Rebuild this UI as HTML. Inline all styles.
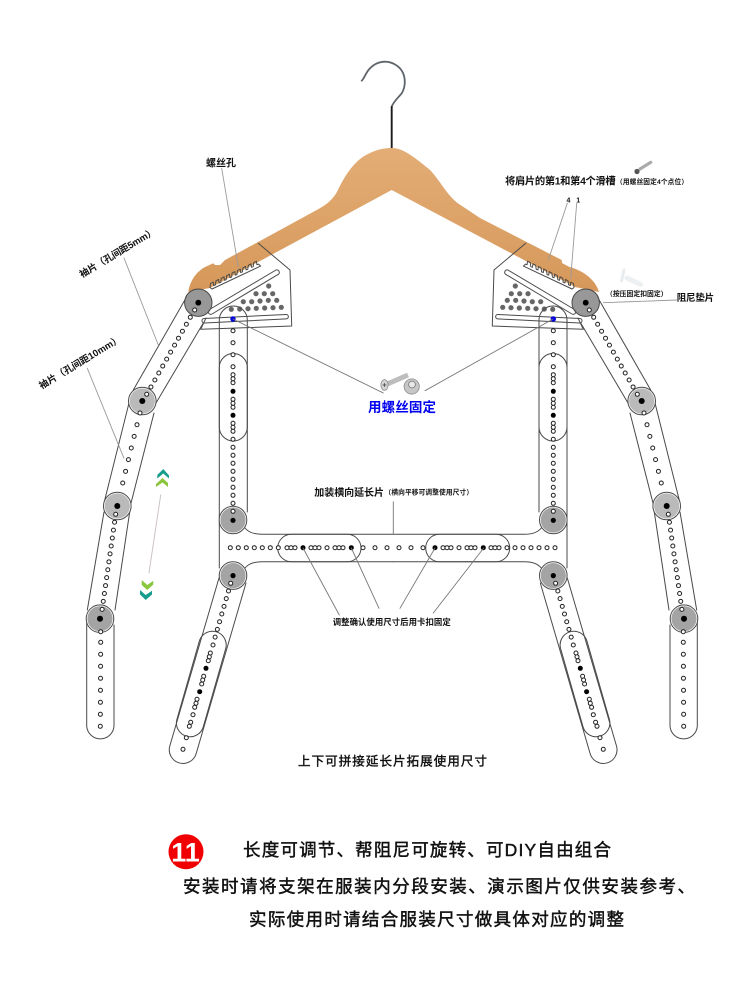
<!DOCTYPE html>
<html><head><meta charset="utf-8"><style>
html,body{margin:0;padding:0;background:#fff}
svg{display:block;stroke-linecap:round}
text{font-family:"Liberation Sans","Noto Sans CJK SC",sans-serif;font-weight:700;fill:#111}
.ln{fill:none;stroke:#4a4a4a;stroke-width:1;stroke-linejoin:round}
.ld{fill:none;stroke:#9a9a9a;stroke-width:.9}
.ls{fill:none;stroke:#777;stroke-width:.9}
.o,.w{fill:none}
.o{stroke:#222;stroke-width:5}
.w{stroke:#fff;stroke-width:3}
.d8{stroke-dasharray:0 8}
.d12{stroke-dasharray:0 12}
.b{fill:#000}
</style></head><body>
<svg width="750" height="1000" viewBox="0 0 750 1000" xmlns="http://www.w3.org/2000/svg">
<defs>
<linearGradient id="wd" x1="0" y1="0" x2="0" y2="1"><stop offset="0" stop-color="#e3ad76"/><stop offset="1" stop-color="#d6985a"/></linearGradient>
<path id="A8" d="M190.3 317.3L150.5 387.7M115.7 514.3L102 610.3"/>
<path id="A12" d="M137 424.7L122.6 483.5M100.7 642.3L100.3 727"/>
<path id="As" d="M194.7 310h.01M146.7 394.3h.01M140 413h.01M100.7 631.7h.01"/>
<path id="C8" d="M233 447.3V512.4M230.7 583.3L215 637.5"/>
<path id="C12" d="M233 330.7V367"/>
<path id="Cs" d="M233 374.7h.01M233 378.7h.01M233 382.7h.01M233 399.3h.01M233 403.3h.01M233 407.3h.01M233 423.3h.01M233 427.3h.01M233 431.3h.01M233 439.3h.01M213 645h.01M210.3 653h.01M209.3 656.7h.01M208.3 660.7h.01M203.7 676.3h.01M202.7 680h.01M201.7 684h.01M197 699.3h.01M196 703.3h.01M194.7 707.3h.01M193 714.7h.01M190.7 722.3h.01M189.3 726.3h.01M186.3 737.7h.01M183 749.3h.01"/>
<g id="J"><circle r="13.8" fill="#fff" stroke="#4a4a4a" stroke-width="1"/><circle r="12.6" fill="#a4a4a4"/></g>
<g id="J2"><circle r="13.8" fill="#fff" stroke="#4a4a4a" stroke-width="1"/><circle r="12.6" fill="#bababa"/></g>

<g id="arm">
<path class="ln" d="M186.7 296.7L133.3 390M203.3 323L156 403M129 403L104 503M154 413L130 507M104 512L87.3 610M130 510L115 610M86.7 622V726.3A13.7 13.7 0 0 0 114 726.3V625"/>
<path class="ln" d="M258.3 243.3L290 270L291.7 326L200.7 329.3L206 318"/>
<path class="ln" d="M210 287.5l.5-4l2.7-1.5l.5 3.5l1.7-.6l.5-4l2.7-1.5l.5 3.5l1.7-.6l.5-4l2.7-1.5l.5 3.5l1.7-.6l.5-4l2.7-1.5l.5 3.5l1.7-.6l.5-4l2.7-1.5l.5 3.5l1.7-.6l.5-4l2.7-1.5l.5 3.5l1.7-.6l.5-4l2.7-1.5l.5 3.5l1.7-.6l.5-4l2.7-1.5l.5 3.5l1.7-.6l.5-4l2.7-1.5l.5 3.5l1.7-.6l2 2L212 289Z"/>
<path class="ln" d="M209.5 309.5L276 270a2.5 2.5 0 0 1 2.5 4.2L212 314a2.5 2.5 0 0 1-2.5-4.5Z"/>
<path class="ln" d="M204 318.5L286 314.5a2.2 2.2 0 0 1 .3 4.4L204.5 323a2.2 2.2 0 0 1-.5-4.5Z"/>
<g fill="#666"><circle cx="268.7" cy="286" r="2.6"/><circle cx="256" cy="293.7" r="2.6"/><circle cx="264.3" cy="293.7" r="2.6"/><circle cx="272.7" cy="293.7" r="2.6"/><circle cx="243.3" cy="301.7" r="2.6"/><circle cx="251.7" cy="301.7" r="2.6"/><circle cx="260" cy="301" r="2.6"/><circle cx="268.3" cy="300.3" r="2.6"/><circle cx="276.7" cy="300.3" r="2.6"/><circle cx="231.3" cy="309.3" r="2.6"/><circle cx="239.7" cy="309" r="2.6"/><circle cx="248" cy="308.7" r="2.6"/><circle cx="256.3" cy="308.3" r="2.6"/><circle cx="264.7" cy="308" r="2.6"/><circle cx="273" cy="307.7" r="2.6"/><circle cx="281.3" cy="307.3" r="2.6"/></g>
<circle cx="198.3" cy="302.7" r="13.7" fill="#8a8a8a" fill-opacity=".88" stroke="#4a4a4a" stroke-width="1"/>
<use href="#J2" x="142.3" y="401"/><use href="#J2" x="117.3" y="506"/><use href="#J" x="100" y="618.7"/>
<use href="#A8" class="o d8"/><use href="#A12" class="o d12"/><use href="#As" class="o"/>
<use href="#A8" class="w d8"/><use href="#A12" class="w d12"/><use href="#As" class="w"/>
<g class="b"><circle cx="198.3" cy="302.7" r="2.9"/><circle cx="142.3" cy="401" r="3"/><circle cx="117.3" cy="506" r="3"/><circle cx="100" cy="618.7" r="3"/></g>
</g>

<g id="col">
<path class="ln" d="M219.3 320A14 14 0 0 1 247.3 320V512M219.3 320V568M245 528Q250 534.3 262 534.3H393.15M245 568Q250 561.7 262 561.7H393.15M219 578L169.8 746A13.7 13.7 0 0 0 196.2 753.5L246 583"/>
<rect class="ln" x="219.3" y="353.5" width="28" height="87.5" rx="14"/>
<rect class="ln" x="-13.7" y="-54.3" width="27.4" height="108.6" rx="13.7" transform="translate(201.3 684) rotate(16)"/>
<use href="#J" x="233" y="520"/><use href="#J" x="233" y="575.6"/>
<use href="#C8" class="o d8"/><use href="#C12" class="o d12"/><use href="#Cs" class="o"/>
<use href="#C8" class="w d8"/><use href="#C12" class="w d12"/><use href="#Cs" class="w"/>
<g class="b"><circle cx="233" cy="391.3" r="2.5"/><circle cx="233" cy="415.3" r="2.5"/><circle cx="233" cy="520.3" r="2.6"/><circle cx="233" cy="575.6" r="2.6"/><circle cx="206" cy="668.3" r="2.5"/><circle cx="199.7" cy="691.7" r="2.5"/></g>
<circle cx="233" cy="319" r="2.7" fill="#0000e0"/>
</g>
</defs>

<rect width="750" height="1000" fill="#fff"/>

<!-- hook -->
<path d="M361.7 80.7C364 79 366 72 370 68.3C375 63 380 61.7 385 61.7C392 61.7 400 66 403 73C406 80 405 88 401.7 93.3C398 98 393 102 391.7 107" fill="none" stroke="#5f646b" stroke-width="1.8"/>
<path d="M391.7 107V148" fill="none" stroke="#1c1c1c" stroke-width="1.9"/>

<!-- hanger -->
<path fill="url(#wd)" d="M188.3 291.7C190 281 196 272 205 267L213.3 263.3L215 265L220 265L225 260L316.7 210C326 205 333 200 338 190C345 175 355 160 368 154C378 149 385 148 392 148C402 148 412 155 430 170C440 180 448 198 462 206L480 218L561.7 260L562 263L569 266.7C585 271 596 281 599 292L575 287L391.7 190L210 288Z"/>

<use href="#arm"/>
<use href="#arm" transform="matrix(-1 0 0 1 784 0)"/>
<use href="#col"/>
<use href="#col" transform="matrix(-1 0 0 1 786.3 0)"/>

<!-- horizontal extension -->
<rect class="ln" x="277.7" y="534.3" width="83.3" height="27.4" rx="13.7"/>
<rect class="ln" x="425.7" y="534.3" width="84" height="27.4" rx="13.7"/>
<g>
<path class="o d8" d="M230.3 547.7H279M507 547.7H555.5"/>
<path class="o d12" d="M363 547.7H423.3"/>
<path class="o" d="M287 547.7h.01M291 547.7h.01M295 547.7h.01M311 547.7h.01M315 547.7h.01M319 547.7h.01M327 547.7h.01M335 547.7h.01M339 547.7h.01M343 547.7h.01M443 547.7h.01M447 547.7h.01M451 547.7h.01M459 547.7h.01M467 547.7h.01M471 547.7h.01M475 547.7h.01M491 547.7h.01M495 547.7h.01M499 547.7h.01"/>
<path class="w d8" d="M230.3 547.7H279M507 547.7H555.5"/>
<path class="w d12" d="M363 547.7H423.3"/>
<path class="w" d="M287 547.7h.01M291 547.7h.01M295 547.7h.01M311 547.7h.01M315 547.7h.01M319 547.7h.01M327 547.7h.01M335 547.7h.01M339 547.7h.01M343 547.7h.01M443 547.7h.01M447 547.7h.01M451 547.7h.01M459 547.7h.01M467 547.7h.01M471 547.7h.01M475 547.7h.01M491 547.7h.01M495 547.7h.01M499 547.7h.01"/>
<g class="b"><circle cx="303" cy="547.7" r="2.5"/><circle cx="351.3" cy="547.7" r="2.5"/><circle cx="435" cy="547.7" r="2.5"/><circle cx="483.3" cy="547.7" r="2.5"/></g>
</g>

<!-- leaders -->
<path class="ld" d="M221.7 168.3L238.3 266.7M124 258L158.3 345M87.3 368.3L124 458.3M567.3 203.3L548.3 260M576.7 203.3L570.7 278.3M603.3 302.7L676.7 300"/>
<path class="ls" d="M233 319L383.3 393M553 319L425 390.7M393.3 501.7V534.3M303 548L339.3 615M351.3 548L379 608.3M435 548L400 608.3M483.7 548L433.3 613"/>
<path d="M160.7 495L149 572.7" fill="none" stroke="#ccc2c2" stroke-width="1"/>

<!-- chevrons -->
<polygon fill="#169d8c" points="157.3,475 163.3,469 169,475.5 169,478.5 163.3,473.5 157.3,478.5"/>
<polygon fill="#8cc63f" points="156,484 162.5,478 168,483 168,487 162.5,482.5 156,487"/>
<polygon fill="#8cc63f" points="141.7,580 147.3,585 153.3,580.7 153.3,584.5 147.3,590 141.7,585"/>
<polygon fill="#169d8c" points="140,590 145.7,595 152,590.7 152,594.5 145.7,600 140,594.5"/>

<!-- center screw + nut -->
<path d="M385 385L408 375" stroke="#bdbdbd" stroke-width="5" fill="none" stroke-linecap="butt"/>
<ellipse cx="384.5" cy="385" rx="3.6" ry="5.4" fill="#d4d4d4" stroke="#8a8a8a" stroke-width=".8"/>
<path d="M383 385h3M384.5 383.5v3" stroke="#555" stroke-width=".9"/>
<circle cx="411.7" cy="386.5" r="7.6" fill="#c6c6c6" stroke="#8a8a8a" stroke-width=".8"/>
<circle cx="412" cy="384.5" r="3.4" fill="#e9e9e9" stroke="#777" stroke-width=".8"/>

<!-- small screw -->
<path d="M640 169L650.7 162.3" stroke="#aaa" stroke-width="3.2" fill="none"/>
<circle cx="637" cy="171.5" r="2.6" fill="#555"/>
<!-- white pin -->
<path d="M627 278L640.7 284.5" stroke="#edf0f2" stroke-width="5" fill="none"/>
<path d="M624 270L621.5 281" stroke="#e8ecef" stroke-width="3" fill="none"/>

<!-- labels -->
<text x="206" y="166.5" font-size="10" textLength="30">螺丝孔</text>
<text x="505" y="184.6" font-size="10.3" textLength="110.7">将肩片的第1和第4个滑槽</text>
<text x="616" y="183.8" font-size="6.7" textLength="72">（用螺丝固定4个点位）</text>
<text x="566.5" y="202.5" font-size="7" font-weight="400">4</text>
<text x="576.2" y="202.5" font-size="7" font-weight="400">1</text>
<text x="606" y="296" font-size="6.8" textLength="61.5">（按压固定扣固定）</text>
<text x="676.7" y="301" font-size="9.5" textLength="37.5">阻尼垫片</text>
<text x="368" y="412" font-size="13.5" textLength="68" style="fill:#0000ee">用螺丝固定</text>
<text x="314.3" y="496" font-size="10" textLength="69.7">加装横向延长片</text>
<text x="384.5" y="494.6" font-size="6.7" textLength="88.5">（横向平移可调整使用尺寸）</text>
<text x="332.7" y="624.8" font-size="8.4" textLength="118">调整确认使用尺寸后用卡扣固定</text>
<text x="298" y="765.3" font-size="12.5" textLength="189" style="font-weight:400;stroke:#111;stroke-width:.4">上下可拼接延长片拓展使用尺寸</text>
<text transform="translate(117.5 252.5) rotate(-31)" x="-43.5" y="3.5" font-size="9.5" textLength="87">袖片（孔间距5mm）</text>
<text transform="translate(80 362) rotate(-31)" x="-47" y="3.5" font-size="9.5" textLength="94">袖片（孔间距10mm）</text>

<!-- bottom -->
<circle cx="186" cy="851.7" r="17.5" fill="#f00000"/>
<text x="185.5" y="861.5" font-size="27" text-anchor="middle" style="fill:#fff">11</text>
<text x="243" y="856" font-size="17.5" textLength="368" style="font-weight:400;stroke:#111;stroke-width:.45">长度可调节、帮阻尼可旋转、可DIY自由组合</text>
<text x="183" y="892.3" font-size="17.5" textLength="512" style="font-weight:400;stroke:#111;stroke-width:.45">安装时请将支架在服装内分段安装、演示图片仅供安装参考、</text>
<text x="249" y="925.3" font-size="17.5" textLength="375" style="font-weight:400;stroke:#111;stroke-width:.45">实际使用时请结合服装尺寸做具体对应的调整</text>
</svg>
</body></html>
